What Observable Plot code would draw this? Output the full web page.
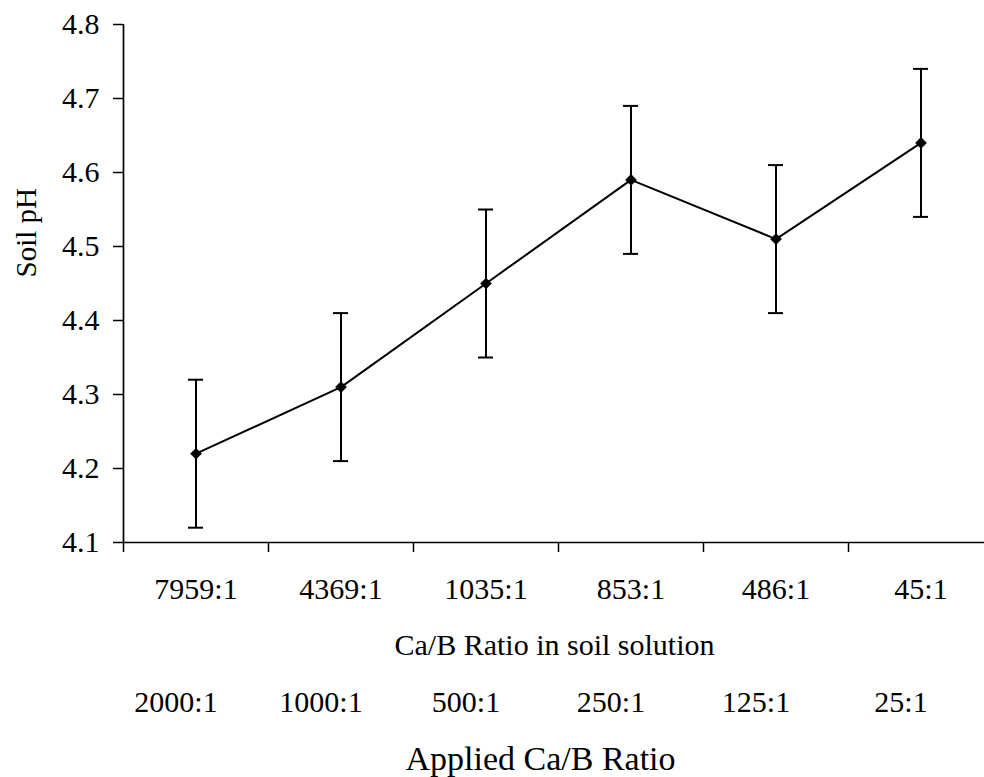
<!DOCTYPE html>
<html>
<head>
<meta charset="utf-8">
<script src="https://cdn.jsdelivr.net/npm/d3@7"></script>
<script src="https://cdn.jsdelivr.net/npm/@observablehq/plot@0.6"></script>
<style>
  html, body { margin: 0; padding: 0; background: #fff; }
  #chart svg { display: block; }
</style>
</head>
<body>
<div id="chart"></div>
<script>
const soilRatios = ["7959:1", "4369:1", "1035:1", "853:1", "486:1", "45:1"];
const appliedRatios = ["2000:1", "1000:1", "500:1", "250:1", "125:1", "25:1"];
const soilPH = [4.22, 4.31, 4.45, 4.59, 4.51, 4.64];
const phError = [0.1, 0.1, 0.1, 0.1, 0.1, 0.1];
const yTicks = [4.1, 4.2, 4.3, 4.4, 4.5, 4.6, 4.7, 4.8];
const xLabel = "Ca/B Ratio in soil solution";
const xLabel2 = "Applied Ca/B Ratio";
const yLabel = "Soil pH";

const data = soilRatios.map((r, i) => ({
  pos: i + 0.5, soil: r, applied: appliedRatios[i],
  ph: soilPH[i], lo: soilPH[i] - phError[i], hi: soilPH[i] + phError[i]
}));
const boundaries = d3.range(0, soilRatios.length + 1);

const font = "'Liberation Serif', 'Times New Roman', serif";

const chart = Plot.plot({
  width: 984,
  height: 777,
  marginTop: 24,
  marginBottom: 235,
  marginLeft: 123,
  marginRight: -9,
  style: { fontFamily: font, color: "#000", background: "#fff" },
  x: { type: "linear", domain: [0, soilRatios.length] },
  y: { domain: [4.1, 4.8] },
  marks: [
    Plot.axisY({ ticks: yTicks, tickFormat: ".1f", tickSize: 10, tickPadding: 14, fontSize: 30, label: null, stroke: "#000", strokeWidth: 1.5 }),
    Plot.axisX({ ticks: boundaries, tickFormat: () => "", tickSize: 10, label: null, stroke: "#000", strokeWidth: 1.5 }),
    Plot.ruleX([0], { y1: 4.1, y2: 4.8, stroke: "#000", strokeWidth: 1.7 }),
    Plot.ruleY([4.1], { stroke: "#000", strokeWidth: 1.7 }),
    Plot.ruleX(data, { x: "pos", y1: "lo", y2: "hi", stroke: "#000", strokeWidth: 2 }),
    Plot.ruleY(data, { y: "hi", x1: "pos", x2: "pos", insetLeft: -7.5, insetRight: -7.5, stroke: "#000", strokeWidth: 2 }),
    Plot.ruleY(data, { y: "lo", x1: "pos", x2: "pos", insetLeft: -7.5, insetRight: -7.5, stroke: "#000", strokeWidth: 2 }),
    Plot.line(data, { x: "pos", y: "ph", stroke: "#000", strokeWidth: 2 }),
    Plot.dot(data, { x: "pos", y: "ph", symbol: "diamond2", r: 5, fill: "#000", stroke: "#000", strokeWidth: 0.5 }),
    Plot.text(data, { x: "pos", text: "soil", frameAnchor: "bottom", dy: 47, fontSize: 30, lineAnchor: "middle" }),
    Plot.text([xLabel], { text: d => d, frameAnchor: "bottom", dy: 103, dx: -4, fontSize: 30, lineAnchor: "middle" }),
    Plot.text(data, { x: "pos", text: "applied", frameAnchor: "bottom", dy: 160, dx: -20, fontSize: 30, lineAnchor: "middle" }),
    Plot.text([xLabel2], { text: d => d, frameAnchor: "bottom", dy: 217, dx: -18, fontSize: 34, lineAnchor: "middle" }),
    Plot.text([yLabel], { text: d => d, frameAnchor: "left", rotate: -90, dx: -97, dy: -6, fontSize: 29, lineAnchor: "middle" })
  ]
});
document.getElementById("chart").appendChild(chart);
</script>
</body>
</html>
